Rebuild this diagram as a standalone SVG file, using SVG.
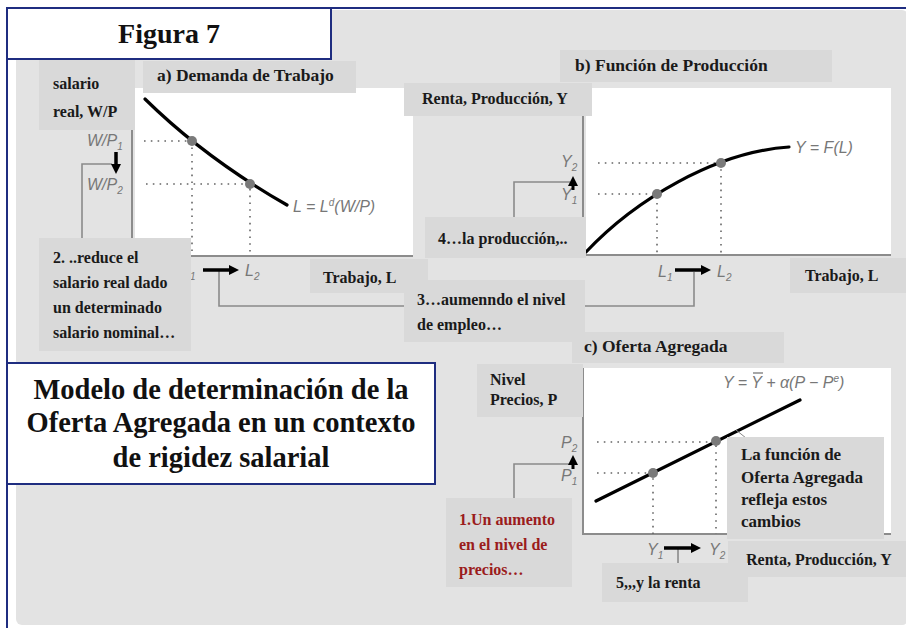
<svg xmlns="http://www.w3.org/2000/svg" width="906" height="628" viewBox="0 0 906 628">
<defs>
<style>
.bg{fill:#e3e3e3}
.box{fill:#d9d9d9}
.plot{fill:#fff}
.axis{stroke:#8c8c8c;stroke-width:2;fill:none}
.dot{stroke:#666;stroke-width:1.6;stroke-dasharray:1.6 5.2;fill:none}
.curve{stroke:#000;stroke-width:3.2;fill:none;stroke-linecap:round}
.pt{fill:#7a7a7a}
.conn{stroke:#8a8a8a;stroke-width:1.6;fill:none}
.arr{stroke:#000;stroke-width:3.5;fill:none}
.lbl{font-family:"Liberation Serif",serif;font-weight:bold;font-size:16px;fill:#1a1a1a}
.ttl{font-family:"Liberation Serif",serif;font-weight:bold;font-size:17.5px;fill:#1a1a1a}
.big{font-family:"Liberation Serif",serif;font-weight:bold;font-size:28.5px;fill:#111;text-anchor:middle}
.math{font-family:"Liberation Sans",sans-serif;font-style:italic;font-size:16px;fill:#777}
.sub{font-size:10px}
.red{fill:#9b1c1c}
.frame{fill:#fff;stroke:#1f2d80;stroke-width:2}
</style>
<marker id="ah" markerUnits="userSpaceOnUse" markerWidth="10" markerHeight="10" refX="2" refY="5" orient="auto">
<path d="M0,0 L10,5 L0,10z" fill="#000"/>
</marker>
</defs>

<g id="background">
<rect x="7" y="8" width="905" height="625" class="frame"/>
<rect x="16" y="10" width="892" height="615" rx="6" class="bg"/>
</g>

<g id="figura">
<rect x="7" y="8" width="324" height="51" class="frame"/>
<text x="169" y="43" class="big" style="font-size:28px">Figura 7</text>
</g>

<g id="panel-a">
<rect x="135" y="88" width="278" height="168" class="plot"/>
<path d="M132,100 V256 H413" class="axis"/>
<path d="M144,141 H192 V256 M146,184 H250 V256" class="dot"/>
<path d="M145,99 Q205,158 287,205" class="curve"/>
<circle cx="192" cy="141" r="5" class="pt"/>
<circle cx="250" cy="184" r="5" class="pt"/>
<text x="293" y="212" class="math">L = L<tspan class="sub" dy="-6">d</tspan><tspan dy="6">(W/P)</tspan></text>
<text x="87" y="146" class="math">W/P<tspan class="sub" dy="4">1</tspan></text>
<text x="87" y="190" class="math">W/P<tspan class="sub" dy="4">2</tspan></text>
<text x="181" y="276" class="math">L<tspan class="sub" dy="4">1</tspan></text>
<text x="245" y="276" class="math">L<tspan class="sub" dy="4">2</tspan></text>
</g>

<g id="panel-b">
<rect x="586" y="88" width="305" height="167" class="plot"/>
<path d="M583,116 V255 H891" class="axis"/>
<path d="M598,194 H657 V255 M598,163 H721 V255" class="dot"/>
<path d="M586,252 C635,200 715,152 789,147" class="curve"/>
<circle cx="657" cy="194" r="5" class="pt"/>
<circle cx="721" cy="163" r="5" class="pt"/>
<text x="795" y="153" class="math">Y = F(L)</text>
<text x="561" y="167" class="math">Y<tspan class="sub" dy="4">2</tspan></text>
<text x="561" y="200" class="math">Y<tspan class="sub" dy="4">1</tspan></text>
<text x="658" y="277" class="math">L<tspan class="sub" dy="4">1</tspan></text>
<text x="717" y="277" class="math">L<tspan class="sub" dy="4">2</tspan></text>
</g>

<g id="panel-c">
<rect x="583" y="368" width="308" height="166" class="plot"/>
<path d="M583,368 V534 H891" class="axis"/>
<path d="M597,442 H716 V534 M597,473 H653 V534" class="dot"/>
<path d="M596,501 L800,400" class="curve"/>
<circle cx="653" cy="473" r="5" class="pt"/>
<circle cx="716" cy="441" r="5" class="pt"/>
<line x1="736" y1="430" x2="746" y2="438" stroke="#888" stroke-width="1"/>
<text x="723" y="388" class="math">Y = Y + α(P − P<tspan class="sub" dy="-6">e</tspan><tspan dy="6">)</tspan></text>
<line x1="753" y1="373" x2="763" y2="373" stroke="#777" stroke-width="1.3"/>
<text x="561" y="448" class="math">P<tspan class="sub" dy="4">2</tspan></text>
<text x="561" y="481" class="math">P<tspan class="sub" dy="4">1</tspan></text>
<text x="647" y="555" class="math">Y<tspan class="sub" dy="4">1</tspan></text>
<text x="709" y="555" class="math">Y<tspan class="sub" dy="4">2</tspan></text>
</g>

<g id="connectors">
<path d="M112,164 H82 V240" class="conn"/>
<path d="M219,270 V306 H694 V272" class="conn"/>
<path d="M570,182 H514 V218" class="conn"/>
<path d="M570,464 H514 V499" class="conn"/>
<path d="M678,548 V564" class="conn"/>
<line x1="116" y1="152" x2="116" y2="166" class="arr" marker-end="url(#ah)"/>
<line x1="203" y1="270" x2="231" y2="270" class="arr" marker-end="url(#ah)"/>
<line x1="675" y1="270" x2="703" y2="270" class="arr" marker-end="url(#ah)"/>
<line x1="573" y1="190" x2="573" y2="184" class="arr" marker-end="url(#ah)" style="stroke-width:3"/>
<line x1="573" y1="469" x2="573" y2="463" class="arr" marker-end="url(#ah)" style="stroke-width:3"/>
<line x1="664" y1="548" x2="693" y2="548" class="arr" marker-end="url(#ah)"/>
</g>

<g id="lbl-salario">
<rect x="39" y="60" width="96" height="70" class="box"/>
<text x="53" y="89" class="lbl">salario</text>
<text x="53" y="117" class="lbl">real, W/P</text>
</g>
<g id="title-a">
<rect x="143" y="61" width="213" height="32" class="box"/>
<text x="157" y="81" class="ttl">a) Demanda de Trabajo</text>
</g>
<g id="step2">
<rect x="39" y="238" width="152" height="113" class="box"/>
<text x="53" y="263" class="lbl">2. ..reduce el</text>
<text x="53" y="288" class="lbl">salario real dado</text>
<text x="53" y="313" class="lbl">un determinado</text>
<text x="53" y="338" class="lbl">salario nominal…</text>
</g>
<g id="trabajo-a">
<rect x="310" y="259" width="118" height="34" class="box"/>
<text x="323" y="283" class="lbl">Trabajo, L</text>
</g>
<g id="step3">
<rect x="404" y="280" width="181" height="62" class="box"/>
<text x="417" y="305" class="lbl">3…aumenndo el nivel</text>
<text x="417" y="330" class="lbl">de empleo…</text>
</g>
<g id="title-b">
<rect x="560" y="50" width="272" height="32" class="box"/>
<text x="575" y="71" class="ttl">b) Función de Producción</text>
</g>
<g id="renta-b">
<rect x="404" y="83" width="188" height="33" class="box"/>
<text x="422" y="104" class="lbl">Renta, Producción, Y</text>
</g>
<g id="step4">
<rect x="425" y="217" width="161" height="41" class="box"/>
<text x="438" y="244" class="lbl">4…la producción,..</text>
</g>
<g id="trabajo-b">
<rect x="790" y="258" width="116" height="35" class="box"/>
<text x="805" y="281" class="lbl">Trabajo, L</text>
</g>
<g id="title-c">
<rect x="572" y="332" width="212" height="31" class="box"/>
<text x="584" y="352" class="ttl">c) Oferta Agregada</text>
</g>
<g id="nivel-precios">
<rect x="477" y="364" width="106" height="53" class="box"/>
<text x="490" y="385" class="lbl">Nivel</text>
<text x="490" y="405" class="lbl">Precios, P</text>
</g>
<g id="step1">
<rect x="446" y="498" width="126" height="89" class="box"/>
<text x="459" y="525" class="lbl red">1.Un aumento</text>
<text x="459" y="550" class="lbl red">en el nivel de</text>
<text x="459" y="575" class="lbl red">precios…</text>
</g>
<g id="oa-note">
<rect x="727" y="437" width="157" height="102" class="box"/>
<text x="741" y="460" class="lbl" style="font-size:17px">La función de</text>
<text x="741" y="483" class="lbl" style="font-size:17px">Oferta Agregada</text>
<text x="741" y="505" class="lbl" style="font-size:17px">refleja estos</text>
<text x="741" y="527" class="lbl" style="font-size:17px">cambios</text>
</g>
<g id="renta-c">
<rect x="728" y="541" width="178" height="36" class="box"/>
<text x="746" y="565" class="lbl">Renta, Producción, Y</text>
</g>
<g id="step5">
<rect x="602" y="563" width="146" height="39" class="box"/>
<text x="616" y="588" class="lbl">5,,,y la renta</text>
</g>

<g id="main-title">
<rect x="7" y="363" width="428" height="121" class="frame"/>
<text x="221" y="399" class="big">Modelo de determinación de la</text>
<text x="221" y="432" class="big">Oferta Agregada en un contexto</text>
<text x="221" y="467" class="big">de rigidez salarial</text>
</g>
</svg>
